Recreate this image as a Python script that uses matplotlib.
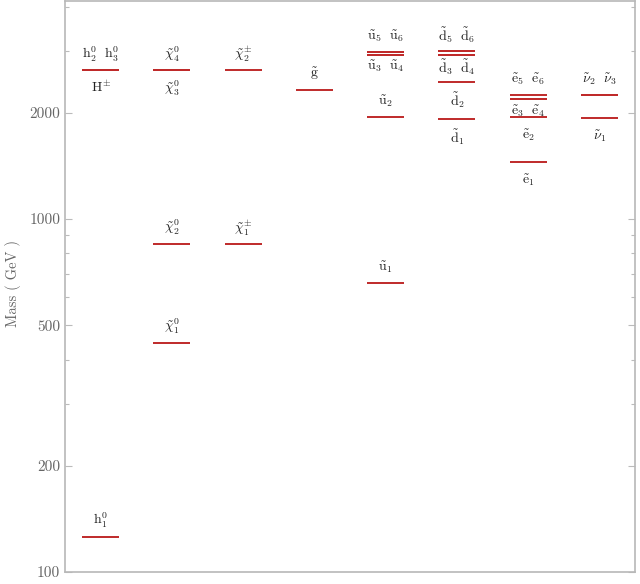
import matplotlib
matplotlib.use("Agg")
import matplotlib.pyplot as plt
from matplotlib.ticker import FixedLocator, NullFormatter, FixedFormatter

plt.rcParams['mathtext.fontset'] = 'cm'
plt.rcParams['font.family'] = 'cmr10'
plt.rcParams['axes.formatter.use_mathtext'] = True

# -----------------------------
# Spectrum (GeV)
# -----------------------------
higgs_m = [126, 2640, 2642]
neutralino_m = [446, 851, 2638, 2645]
chargino_m = [851, 2645]
gluino_m = [2320]
sup_m = [659, 1945, 2922, 2925, 2965, 2968]
sdown_m = [1916, 2446, 2915, 2918, 2990, 2992]
selectron_m = [1450, 1940, 2187, 2190, 2245]
sneutrino_m = [1936, 2242, 2245]

# labels: (mass the label sits on, text, side)
higgs_lab = [(126, r'$\mathrm{h}_1^0$', 'above'),
             (2640, r'$\mathrm{h}_2^0\ \ \mathrm{h}_3^0$', 'above'),
             (2640, r'$\mathrm{H}^{\pm}$', 'below')]
neutralino_lab = [(446, r'$\tilde{\chi}_1^0$', 'above'),
                  (851, r'$\tilde{\chi}_2^0$', 'above'),
                  (2645, r'$\tilde{\chi}_4^0$', 'above'),
                  (2638, r'$\tilde{\chi}_3^0$', 'below')]
chargino_lab = [(851, r'$\tilde{\chi}_1^{\pm}$', 'above'),
                (2645, r'$\tilde{\chi}_2^{\pm}$', 'above')]
gluino_lab = [(2320, r'$\tilde{\mathrm{g}}$', 'above')]
sup_lab = [(659, r'$\tilde{\mathrm{u}}_1$', 'above'),
           (1945, r'$\tilde{\mathrm{u}}_2$', 'above'),
           (2922, r'$\tilde{\mathrm{u}}_3\ \ \tilde{\mathrm{u}}_4$', 'between'),
           (2968, r'$\tilde{\mathrm{u}}_5\ \ \tilde{\mathrm{u}}_6$', 'above')]
sdown_lab = [(1916, r'$\tilde{\mathrm{d}}_1$', 'below'),
             (2446, r'$\tilde{\mathrm{d}}_2$', 'below'),
             (2915, r'$\tilde{\mathrm{d}}_3\ \ \tilde{\mathrm{d}}_4$', 'between'),
             (2992, r'$\tilde{\mathrm{d}}_5\ \ \tilde{\mathrm{d}}_6$', 'above')]
selectron_lab = [(1450, r'$\tilde{\mathrm{e}}_1$', 'below'),
                 (1940, r'$\tilde{\mathrm{e}}_2$', 'below'),
                 (2187, r'$\tilde{\mathrm{e}}_3\ \ \tilde{\mathrm{e}}_4$', 'between'),
                 (2245, r'$\tilde{\mathrm{e}}_5\ \ \tilde{\mathrm{e}}_6$', 'above')]
sneutrino_lab = [(1936, r'$\tilde{\nu}_1$', 'below'),
                 (2245, r'$\tilde{\nu}_2\ \ \tilde{\nu}_3$', 'above')]

masses = [higgs_m, neutralino_m, chargino_m, gluino_m,
          sup_m, sdown_m, selectron_m, sneutrino_m]
labels = [higgs_lab, neutralino_lab, chargino_lab, gluino_lab,
          sup_lab, sdown_lab, selectron_lab, sneutrino_lab]

y_ticks = [100, 200, 500, 1000, 2000]
y_minor = [300, 400, 600, 700, 800, 900, 3000, 4000]

# offsets in points for label placement
offsets = {'above': 11.5, 'below': -13, 'between': -8.5}

# -----------------------------
# Plot
# -----------------------------
fig = plt.figure(figsize=(6.4, 5.84), dpi=100)
ax = fig.add_axes([0.1016, 0.0205, 0.8906, 0.978])

line_color = '#bf2a2a'
for i, col in enumerate(masses):
    ax.hlines(col, i + 0.24, i + 0.76, color=line_color, lw=1.4)
    for m, txt, side in labels[i]:
        ax.annotate(txt, (i + 0.5, m), xytext=(0, offsets[side]),
                    textcoords='offset points', ha='center', va='center',
                    fontsize=10, color='#222222')

ax.set_yscale('log')
ax.set_ylim(100, 4150)
ax.set_xlim(0, 8)
ax.set_xticks([])

ax.yaxis.set_major_locator(FixedLocator(y_ticks))
ax.yaxis.set_major_formatter(FixedFormatter([str(t) for t in y_ticks]))
ax.yaxis.set_minor_locator(FixedLocator(y_minor))
ax.yaxis.set_minor_formatter(NullFormatter())
ax.tick_params(axis='y', which='both', direction='in', right=True,
               colors='#bbbbbb', labelcolor='#666666', labelsize=11)
ax.tick_params(axis='y', which='major', length=5, width=0.8)
ax.tick_params(axis='y', which='minor', length=3, width=0.8)

for s in ax.spines.values():
    s.set_color('#b8b8b8')
    s.set_linewidth(1.2)

ax.set_ylabel('Mass ( GeV )', color='#666666', fontsize=10.5)
ax.yaxis.set_label_coords(-0.078, 0.505)

fig.savefig('out.png', dpi=100)
plt.close()
